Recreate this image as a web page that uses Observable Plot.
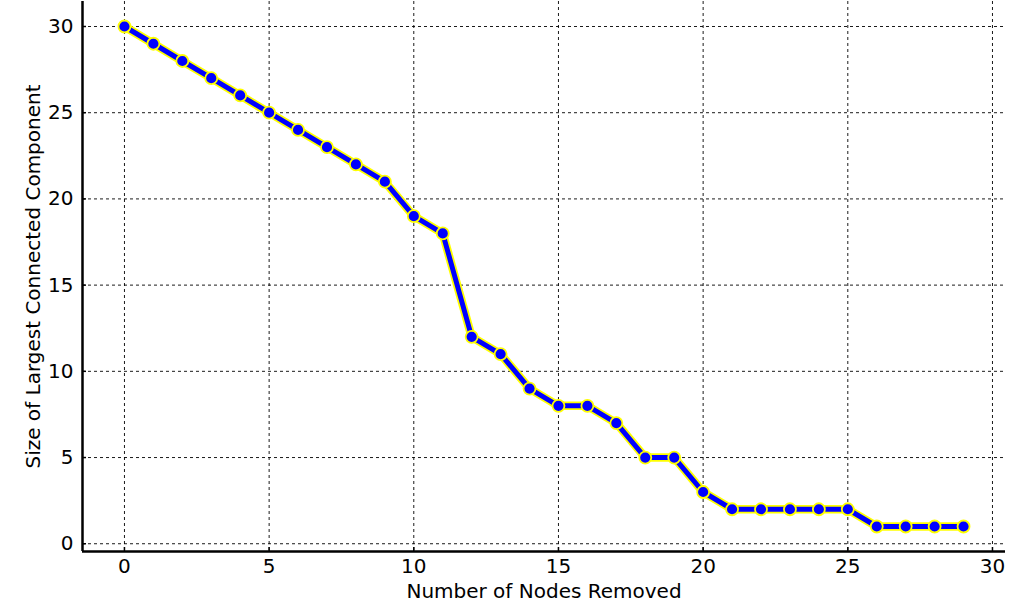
<!DOCTYPE html>
<html>
<head>
<meta charset="utf-8">
<script src="https://cdn.jsdelivr.net/npm/d3@7"></script>
<script src="https://cdn.jsdelivr.net/npm/@observablehq/plot@0.6"></script>
<style>
  html, body { margin: 0; padding: 0; background: #fff; }
  #chart { width: 1024px; height: 616px; }
</style>
</head>
<body>
<div id="chart"></div>
<script>
const nodesRemoved = [0,1,2,3,4,5,6,7,8,9,10,11,12,13,14,15,16,17,18,19,20,21,22,23,24,25,26,27,28,29];
const largestComponent = [30,29,28,27,26,25,24,23,22,21,19,18,12,11,9,8,8,7,5,5,3,2,2,2,2,2,1,1,1,1];
const xTicks = [0,5,10,15,20,25,30];
const yTicks = [0,5,10,15,20,25,30];
const xLabel = "Number of Nodes Removed";
const yLabel = "Size of Largest Connected Component";

const data = nodesRemoved.map((x, i) => ({x, y: largestComponent[i]}));
const xDomain = [-1.45, 30.45];
const yDomain = [-0.45, 31.45];

const chart = Plot.plot({
  width: 1024,
  height: 616,
  marginLeft: 82,
  marginRight: 19,
  marginTop: 1,
  marginBottom: 65,
  style: { fontFamily: "DejaVu Sans", fontSize: "20px", color: "black", background: "white" },
  x: { domain: xDomain, ticks: xTicks, axis: null },
  y: { domain: yDomain, ticks: yTicks, axis: null },
  marks: [
    Plot.gridX(xTicks, { stroke: "black", strokeOpacity: 1, strokeWidth: 0.9, strokeDasharray: "3,3" }),
    Plot.gridY(yTicks, { stroke: "black", strokeOpacity: 1, strokeWidth: 0.9, strokeDasharray: "3,3" }),
    Plot.axisX(xTicks, { tickSize: 4, dy: -4, tickFormat: () => "", strokeWidth: 1.5, label: null }),
    Plot.axisY(yTicks, { tickSize: 4, dx: 4, tickFormat: () => "", strokeWidth: 1.5, label: null }),
    Plot.text(xTicks, { x: d => d, frameAnchor: "bottom", lineAnchor: "middle", textAnchor: "middle", dy: 15, fontSize: 20, fill: "black" }),
    Plot.text(yTicks, { y: d => d, frameAnchor: "left", lineAnchor: "middle", textAnchor: "end", dx: -9, fontSize: 20, fill: "black" }),
    Plot.text([xLabel], { frameAnchor: "bottom", lineAnchor: "middle", textAnchor: "middle", dy: 40, fontSize: 20, fill: "black" }),
    Plot.text([yLabel], { frameAnchor: "left", lineAnchor: "middle", textAnchor: "middle", rotate: -90, dx: -49, fontSize: 20, fill: "black" }),
    Plot.ruleX([xDomain[0]], { stroke: "black", strokeWidth: 2.5 }),
    Plot.ruleY([yDomain[0]], { stroke: "black", strokeWidth: 2.5 }),
    Plot.line(data, { x: "x", y: "y", stroke: "yellow", strokeWidth: 8.5, strokeLinejoin: "round", strokeLinecap: "round" }),
    Plot.line(data, { x: "x", y: "y", stroke: "blue", strokeWidth: 5, strokeLinejoin: "round", strokeLinecap: "round" }),
    Plot.dot(data, { x: "x", y: "y", r: 6, fill: "blue", stroke: "yellow", strokeWidth: 1.8 })
  ]
});
document.getElementById("chart").appendChild(chart);
</script>
</body>
</html>
